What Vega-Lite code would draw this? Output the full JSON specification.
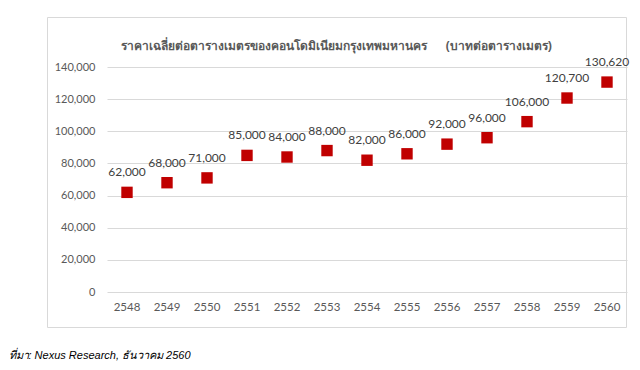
{
  "$schema": "https://vega.github.io/schema/vega-lite/v6.json",
  "autosize": {"type": "none"},
  "width": 579,
  "height": 310,
  "padding": {"left": 47, "top": 17, "right": 14, "bottom": 43},
  "background": "white",
  "title": {
    "text": "ราคาเฉลี่ยต่อตารางเมตรของคอนโดมิเนียมกรุงเทพมหานคร\u00a0\u00a0\u00a0\u00a0\u00a0\u00a0(บาทต่อตารางเมตร)",
    "anchor": "middle",
    "frame": "group",
    "orient": "top",
    "offset": -41,
    "baseline": "middle",
    "fontSize": 12,
    "fontWeight": "bold",
    "color": "#595959",
    "font": "Noto Sans"
  },
  "data": {
    "values": [
      {"year": "2548", "price": 62000},
      {"year": "2549", "price": 68000},
      {"year": "2550", "price": 71000},
      {"year": "2551", "price": 85000},
      {"year": "2552", "price": 84000},
      {"year": "2553", "price": 88000},
      {"year": "2554", "price": 82000},
      {"year": "2555", "price": 86000},
      {"year": "2556", "price": 92000},
      {"year": "2557", "price": 96000},
      {"year": "2558", "price": 106000},
      {"year": "2559", "price": 120700},
      {"year": "2560", "price": 130620}
    ]
  },
  "encoding": {
    "x": {
      "field": "year",
      "type": "ordinal",
      "scale": {"type": "band", "range": [60, 580], "paddingInner": 0, "paddingOuter": 0},
      "axis": {
        "title": "ที่มา: Nexus Research, ธันวาคม 2560",
        "titleX": -39,
        "titleY": 63,
        "titleAnchor": "start",
        "titleAlign": "left",
        "titleBaseline": "middle",
        "titleFontSize": 11,
        "titleFontStyle": "italic",
        "titleFontWeight": "normal",
        "titleColor": "#000000",
        "titleFont": "Liberation Sans",
        "offset": -35,
        "labelAngle": 0,
        "labelFontSize": 11.5,
        "labelColor": "#595959",
        "labelFont": "Lato",
        "labelPadding": 9,
        "domain": false,
        "ticks": false,
        "grid": false
      }
    },
    "y": {
      "field": "price",
      "type": "quantitative",
      "scale": {"domain": [0, 140000], "range": [275, 50], "nice": false, "zero": true},
      "axis": {
        "title": null,
        "values": [0, 20000, 40000, 60000, 80000, 100000, 120000, 140000],
        "format": ",.0f",
        "offset": -60,
        "labelFontSize": 11,
        "labelColor": "#595959",
        "labelFont": "Lato",
        "labelPadding": 12,
        "domain": false,
        "ticks": false,
        "grid": true,
        "gridColor": "#d9d9d9",
        "gridWidth": 1
      }
    }
  },
  "layer": [
    {
      "mark": {"type": "square", "size": 130, "color": "#C00000", "opacity": 1, "filled": true}
    },
    {
      "mark": {"type": "text", "dy": -20, "fontSize": 12, "color": "#404040", "font": "Lato"},
      "encoding": {"text": {"field": "price", "type": "quantitative", "format": ",.0f"}}
    }
  ],
  "config": {
    "view": {"stroke": "#d9d9d9", "strokeWidth": 1}
  }
}
